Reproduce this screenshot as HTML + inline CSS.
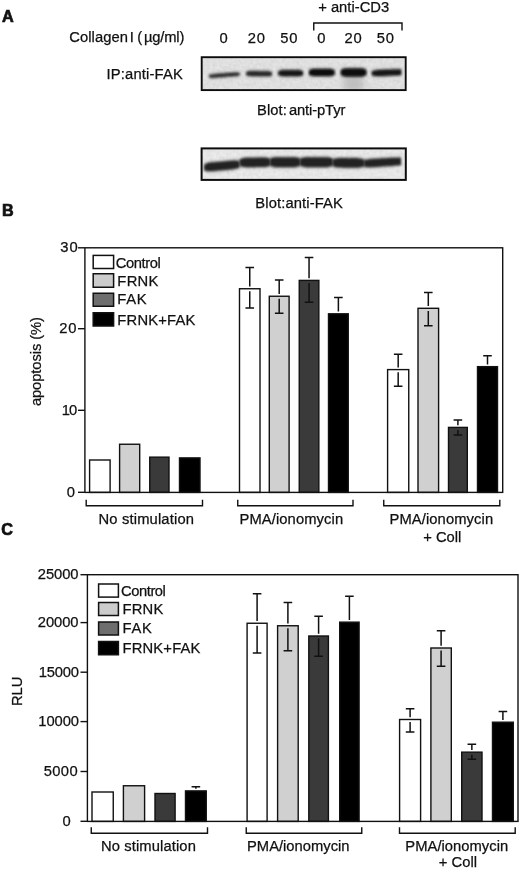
<!DOCTYPE html>
<html><head><meta charset="utf-8"><title>Figure</title>
<style>
html,body{margin:0;padding:0;background:#fff;}
svg{display:block;}
text{font-family:"Liberation Sans",Arial,Helvetica,sans-serif;fill:#111;stroke:#111;stroke-width:0.25;}
.b{font-weight:bold;stroke-width:0.7;}
.ln{stroke:#111;stroke-width:1.4;fill:none;}
.br{stroke:#111;stroke-width:1.4;fill:none;}
.eb{stroke:#111;stroke-width:1.5;fill:none;}
</style></head><body>
<svg width="520" height="870" viewBox="0 0 520 870">
<defs>
<filter id="bl1" x="-20%" y="-100%" width="140%" height="300%"><feGaussianBlur stdDeviation="1.0 0.9"/></filter>
<filter id="bl2" x="-20%" y="-100%" width="140%" height="300%"><feGaussianBlur stdDeviation="1.6 1.5"/></filter>
<filter id="bl4" x="-20%" y="-100%" width="140%" height="300%"><feGaussianBlur stdDeviation="1.3 1.15"/></filter>
<filter id="bl3" x="-50%" y="-50%" width="200%" height="200%"><feGaussianBlur stdDeviation="3 4"/></filter>
<filter id="noise" x="0" y="0" width="100%" height="100%"><feTurbulence type="fractalNoise" baseFrequency="0.3" numOctaves="2" seed="3"/><feColorMatrix type="matrix" values="0 0 0 0 0.5  0 0 0 0 0.5  0 0 0 0 0.5  0.9 0.9 0.9 0 -1.05"/></filter>
<clipPath id="c1"><rect x="201.7" y="57.2" width="204" height="32.9"/></clipPath>
<clipPath id="c2"><rect x="201.6" y="148.4" width="204.2" height="31.5"/></clipPath>
</defs>
<rect width="520" height="870" fill="#fff"/>

<text id="t1" x="1.94" y="22.2" font-size="16.2" class="b">A</text>
<text font-size="14.75">
<tspan id="t2" x="69.31" y="42" letter-spacing="0.049">Collagen </tspan>
<tspan id="t3" x="129.72" y="42">I </tspan>
<tspan id="t4" x="137.17" y="42">( </tspan>
<tspan id="t5" x="144.00" y="42" letter-spacing="-0.180">µg/ml)</tspan>
</text>
<text id="t6" x="219.48" y="42.5" font-size="14.75">0</text>
<text id="t7" x="247.87" y="42.5" font-size="14.75" letter-spacing="0.670">20</text>
<text id="t8" x="280.23" y="42.5" font-size="14.75" letter-spacing="0.950">50</text>
<text id="t9" x="317.18" y="42.5" font-size="14.75">0</text>
<text id="t10" x="344.53" y="42.5" font-size="14.75" letter-spacing="0.835">20</text>
<text id="t11" x="376.67" y="42.5" font-size="14.75" letter-spacing="0.855">50</text>
<text font-size="14.75">
<tspan id="t12" x="318.18" y="12">+ </tspan>
<tspan id="t13" x="330.90" y="12" letter-spacing="0.010">anti-CD3</tspan>
</text>
<path class="br" d="M313.75 30.5V23H402V30.5"/>
<text id="t14" x="106.53" y="78.75" font-size="14.75" letter-spacing="0.166">IP:anti-FAK</text>
<text font-size="14.75">
<tspan id="t15" x="257.00" y="114.5" letter-spacing="0.101">Blot:</tspan>
<tspan id="t16" x="288.90" y="114.5" letter-spacing="-0.114">anti-pTyr</tspan>
</text>
<text id="t17" x="255.37" y="208.25" font-size="14.75" letter-spacing="0.113">Blot:anti-FAK</text>
<g clip-path="url(#c1)">
<rect x="200" y="56" width="208" height="36" fill="#e4e4e4"/>
<rect x="200" y="56" width="208" height="36" filter="url(#noise)" opacity="0.38"/>
<ellipse cx="353.5" cy="84" rx="11" ry="9" fill="#bdbdbd" filter="url(#bl3)"/>
<path d="M209.2 73.9C209.5 73.9 210.0 73.6 211.0 73.5C212.0 73.3 213.1 73.1 215.3 72.9C217.5 72.7 221.4 72.4 224.4 72.2C227.4 72.0 231.3 71.7 233.5 71.5C235.7 71.4 236.8 71.5 237.8 71.5C238.8 71.6 239.3 71.7 239.6 71.7L239.6 76.3C239.3 76.3 238.8 76.6 237.8 76.7C236.8 76.9 235.7 77.1 233.5 77.3C231.3 77.5 227.4 77.8 224.4 78.0C221.4 78.2 217.5 78.5 215.3 78.7C213.1 78.8 212.0 78.7 211.0 78.7C210.0 78.6 209.5 78.5 209.2 78.5Z" fill="#444" filter="url(#bl2)" opacity="0.42"/>
<path d="M209.2 75.2C209.5 75.2 210.0 74.9 211.0 74.8C212.0 74.6 213.1 74.4 215.3 74.2C217.5 74.0 221.4 73.7 224.4 73.5C227.4 73.3 231.3 73.0 233.5 72.8C235.7 72.7 236.8 72.8 237.8 72.8C238.8 72.9 239.3 73.0 239.6 73.0L239.6 75.0C239.3 75.0 238.8 75.3 237.8 75.4C236.8 75.6 235.7 75.8 233.5 76.0C231.3 76.2 227.4 76.5 224.4 76.7C221.4 76.9 217.5 77.2 215.3 77.4C213.1 77.5 212.0 77.4 211.0 77.4C210.0 77.3 209.5 77.2 209.2 77.2Z" fill="#2a2a2a" filter="url(#bl1)"/>
<path d="M246.3 70.9C246.6 70.8 247.0 70.6 247.8 70.4C248.7 70.3 249.5 70.1 251.4 70.0C253.3 70.0 256.5 70.1 259.1 70.1C261.6 70.1 264.8 70.1 266.7 70.2C268.6 70.2 269.4 70.4 270.3 70.6C271.1 70.8 271.5 71.0 271.8 71.1L271.8 76.5C271.5 76.6 271.1 76.8 270.3 77.0C269.4 77.1 268.6 77.3 266.7 77.4C264.8 77.4 261.6 77.3 259.1 77.3C256.5 77.3 253.3 77.3 251.4 77.2C249.5 77.2 248.7 77.0 247.8 76.8C247.0 76.6 246.6 76.4 246.3 76.3Z" fill="#444" filter="url(#bl2)" opacity="0.42"/>
<path d="M246.3 72.2C246.6 72.1 247.0 71.9 247.8 71.7C248.7 71.6 249.5 71.4 251.4 71.3C253.3 71.3 256.5 71.4 259.1 71.4C261.6 71.4 264.8 71.4 266.7 71.5C268.6 71.5 269.4 71.7 270.3 71.9C271.1 72.1 271.5 72.3 271.8 72.4L271.8 75.2C271.5 75.3 271.1 75.5 270.3 75.7C269.4 75.8 268.6 76.0 266.7 76.1C264.8 76.1 261.6 76.0 259.1 76.0C256.5 76.0 253.3 76.0 251.4 75.9C249.5 75.9 248.7 75.7 247.8 75.5C247.0 75.3 246.6 75.1 246.3 75.0Z" fill="#262626" filter="url(#bl1)"/>
<path d="M278.3 70.3C278.5 70.2 279.0 69.8 279.8 69.6C280.6 69.4 281.4 69.1 283.2 69.0C285.1 68.9 288.2 69.0 290.6 69.0C293.1 69.0 296.2 68.9 298.1 69.0C299.9 69.1 300.7 69.4 301.5 69.6C302.3 69.8 302.8 70.2 303.0 70.3L303.0 76.1C302.8 76.2 302.3 76.6 301.5 76.8C300.7 77.0 299.9 77.3 298.1 77.4C296.2 77.5 293.1 77.4 290.6 77.4C288.2 77.4 285.1 77.5 283.2 77.4C281.4 77.3 280.6 77.0 279.8 76.8C279.0 76.6 278.5 76.2 278.3 76.1Z" fill="#444" filter="url(#bl2)" opacity="0.42"/>
<path d="M278.3 71.6C278.5 71.5 279.0 71.1 279.8 70.9C280.6 70.7 281.4 70.4 283.2 70.3C285.1 70.2 288.2 70.3 290.6 70.3C293.1 70.3 296.2 70.2 298.1 70.3C299.9 70.4 300.7 70.7 301.5 70.9C302.3 71.1 302.8 71.5 303.0 71.6L303.0 74.8C302.8 74.9 302.3 75.3 301.5 75.5C300.7 75.7 299.9 76.0 298.1 76.1C296.2 76.2 293.1 76.1 290.6 76.1C288.2 76.1 285.1 76.2 283.2 76.1C281.4 76.0 280.6 75.7 279.8 75.5C279.0 75.3 278.5 74.9 278.3 74.8Z" fill="#141414" filter="url(#bl1)"/>
<path d="M309.0 69.3C309.3 69.1 309.7 68.7 310.5 68.4C311.4 68.1 312.2 67.8 314.1 67.7C316.0 67.6 319.2 67.7 321.8 67.7C324.4 67.7 327.6 67.6 329.5 67.7C331.4 67.8 332.2 68.1 333.1 68.4C333.9 68.7 334.3 69.1 334.6 69.3L334.6 75.7C334.3 75.9 333.9 76.3 333.1 76.6C332.2 76.9 331.4 77.2 329.5 77.3C327.6 77.4 324.4 77.3 321.8 77.3C319.2 77.3 316.0 77.4 314.1 77.3C312.2 77.2 311.4 76.9 310.5 76.6C309.7 76.3 309.3 75.9 309.0 75.7Z" fill="#444" filter="url(#bl2)" opacity="0.42"/>
<path d="M309.0 70.6C309.3 70.4 309.7 70.0 310.5 69.7C311.4 69.4 312.2 69.1 314.1 69.0C316.0 68.9 319.2 69.0 321.8 69.0C324.4 69.0 327.6 68.9 329.5 69.0C331.4 69.1 332.2 69.4 333.1 69.7C333.9 70.0 334.3 70.4 334.6 70.6L334.6 74.4C334.3 74.6 333.9 75.0 333.1 75.3C332.2 75.6 331.4 75.9 329.5 76.0C327.6 76.1 324.4 76.0 321.8 76.0C319.2 76.0 316.0 76.1 314.1 76.0C312.2 75.9 311.4 75.6 310.5 75.3C309.7 75.0 309.3 74.6 309.0 74.4Z" fill="#101010" filter="url(#bl1)"/>
<path d="M340.8 69.1C341.1 68.9 341.5 68.4 342.3 68.1C343.2 67.8 344.0 67.4 345.9 67.3C347.8 67.2 351.0 67.3 353.6 67.3C356.2 67.3 359.4 67.2 361.3 67.3C363.2 67.4 364.0 67.8 364.9 68.1C365.7 68.4 366.1 68.9 366.4 69.1L366.4 75.9C366.1 76.1 365.7 76.6 364.9 76.9C364.0 77.2 363.2 77.6 361.3 77.7C359.4 77.8 356.2 77.7 353.6 77.7C351.0 77.7 347.8 77.8 345.9 77.7C344.0 77.6 343.2 77.2 342.3 76.9C341.5 76.6 341.1 76.1 340.8 75.9Z" fill="#444" filter="url(#bl2)" opacity="0.42"/>
<path d="M340.8 70.4C341.1 70.2 341.5 69.7 342.3 69.4C343.2 69.1 344.0 68.7 345.9 68.6C347.8 68.5 351.0 68.6 353.6 68.6C356.2 68.6 359.4 68.5 361.3 68.6C363.2 68.7 364.0 69.1 364.9 69.4C365.7 69.7 366.1 70.2 366.4 70.4L366.4 74.6C366.1 74.8 365.7 75.3 364.9 75.6C364.0 75.9 363.2 76.3 361.3 76.4C359.4 76.5 356.2 76.4 353.6 76.4C351.0 76.4 347.8 76.5 345.9 76.4C344.0 76.3 343.2 75.9 342.3 75.6C341.5 75.3 341.1 74.8 340.8 74.6Z" fill="#0c0c0c" filter="url(#bl1)"/>
<path d="M371.8 70.4C372.1 70.3 372.6 69.9 373.6 69.6C374.5 69.4 375.5 69.1 377.7 68.9C379.8 68.7 383.6 68.7 386.5 68.5C389.4 68.4 393.2 68.3 395.3 68.2C397.5 68.2 398.5 68.2 399.4 68.2C400.4 68.2 400.9 68.2 401.2 68.1L401.2 76.3C400.9 76.3 400.4 76.3 399.4 76.3C398.5 76.4 397.5 76.5 395.3 76.6C393.2 76.7 389.4 76.8 386.5 77.0C383.6 77.1 379.8 77.3 377.7 77.3C375.5 77.3 374.5 77.0 373.6 76.8C372.6 76.7 372.1 76.3 371.8 76.2Z" fill="#444" filter="url(#bl2)" opacity="0.42"/>
<path d="M371.8 71.7C372.1 71.6 372.6 71.2 373.6 70.9C374.5 70.7 375.5 70.4 377.7 70.2C379.8 70.0 383.6 70.0 386.5 69.8C389.4 69.7 393.2 69.6 395.3 69.5C397.5 69.5 398.5 69.5 399.4 69.5C400.4 69.5 400.9 69.5 401.2 69.4L401.2 75.0C400.9 75.0 400.4 75.0 399.4 75.0C398.5 75.1 397.5 75.2 395.3 75.3C393.2 75.4 389.4 75.5 386.5 75.7C383.6 75.8 379.8 76.0 377.7 76.0C375.5 76.0 374.5 75.7 373.6 75.5C372.6 75.4 372.1 75.0 371.8 74.9Z" fill="#121212" filter="url(#bl1)"/>
</g>
<rect x="201.7" y="57.2" width="204" height="32.9" fill="none" stroke="#0c0c0c" stroke-width="1.9"/>
<g clip-path="url(#c2)">
<rect x="200" y="147" width="208" height="35" fill="#ebebeb"/>
<rect x="200" y="147" width="208" height="35" filter="url(#noise)" opacity="0.3"/>
<path d="M204.3 163.6C204.7 163.4 205.2 162.9 206.4 162.5C207.6 162.1 208.8 161.6 211.4 161.3C213.9 160.9 218.4 160.7 221.9 160.4C225.5 160.0 230.0 159.5 232.5 159.4C235.1 159.3 236.3 159.5 237.5 159.6C238.7 159.8 239.2 160.2 239.6 160.3L239.6 168.3C239.2 168.5 238.7 169.0 237.5 169.3C236.3 169.7 235.1 170.1 232.5 170.4C230.0 170.8 225.5 171.0 221.9 171.4C218.4 171.7 213.9 172.2 211.4 172.3C208.8 172.4 207.6 172.1 206.4 172.0C205.2 171.8 204.7 171.3 204.3 171.2Z" fill="#444" filter="url(#bl2)" opacity="0.42"/>
<path d="M204.3 164.9C204.7 164.7 205.2 164.2 206.4 163.8C207.6 163.4 208.8 162.9 211.4 162.6C213.9 162.2 218.4 162.0 221.9 161.7C225.5 161.3 230.0 160.8 232.5 160.7C235.1 160.6 236.3 160.8 237.5 160.9C238.7 161.1 239.2 161.5 239.6 161.6L239.6 167.0C239.2 167.2 238.7 167.7 237.5 168.0C236.3 168.4 235.1 168.8 232.5 169.1C230.0 169.5 225.5 169.7 221.9 170.1C218.4 170.4 213.9 170.9 211.4 171.0C208.8 171.1 207.6 170.8 206.4 170.7C205.2 170.5 204.7 170.0 204.3 169.9Z" fill="#242424" filter="url(#bl4)"/>
<path d="M239.6 158.6C239.9 158.4 240.4 157.9 241.4 157.6C242.5 157.3 243.5 156.9 245.7 156.7C248.0 156.6 251.9 156.6 254.9 156.6C258.0 156.6 261.9 156.4 264.2 156.5C266.4 156.6 267.4 156.9 268.5 157.2C269.5 157.5 270.0 158.0 270.3 158.2L270.3 166.2C270.0 166.4 269.5 166.9 268.5 167.2C267.4 167.5 266.4 167.9 264.2 168.1C261.9 168.2 258.0 168.2 254.9 168.2C251.9 168.2 248.0 168.4 245.7 168.3C243.5 168.2 242.5 167.9 241.4 167.6C240.4 167.3 239.9 166.8 239.6 166.6Z" fill="#444" filter="url(#bl2)" opacity="0.42"/>
<path d="M239.6 159.9C239.9 159.7 240.4 159.2 241.4 158.9C242.5 158.6 243.5 158.2 245.7 158.0C248.0 157.9 251.9 157.9 254.9 157.9C258.0 157.9 261.9 157.7 264.2 157.8C266.4 157.9 267.4 158.2 268.5 158.5C269.5 158.8 270.0 159.3 270.3 159.5L270.3 164.9C270.0 165.1 269.5 165.6 268.5 165.9C267.4 166.2 266.4 166.6 264.2 166.8C261.9 166.9 258.0 166.9 254.9 166.9C251.9 166.9 248.0 167.1 245.7 167.0C243.5 166.9 242.5 166.6 241.4 166.3C240.4 166.0 239.9 165.5 239.6 165.3Z" fill="#242424" filter="url(#bl4)"/>
<path d="M269.9 158.1C270.2 157.9 270.7 157.4 271.7 157.0C272.7 156.7 273.8 156.3 276.0 156.2C278.2 156.1 282.1 156.2 285.1 156.2C288.1 156.2 292.0 156.1 294.2 156.2C296.4 156.3 297.5 156.7 298.5 157.0C299.5 157.4 300.0 157.9 300.3 158.1L300.3 166.3C300.0 166.5 299.5 167.0 298.5 167.4C297.5 167.7 296.4 168.1 294.2 168.2C292.0 168.3 288.1 168.2 285.1 168.2C282.1 168.2 278.2 168.3 276.0 168.2C273.8 168.1 272.7 167.7 271.7 167.4C270.7 167.0 270.2 166.5 269.9 166.3Z" fill="#444" filter="url(#bl2)" opacity="0.42"/>
<path d="M269.9 159.4C270.2 159.2 270.7 158.7 271.7 158.3C272.7 158.0 273.8 157.6 276.0 157.5C278.2 157.4 282.1 157.5 285.1 157.5C288.1 157.5 292.0 157.4 294.2 157.5C296.4 157.6 297.5 158.0 298.5 158.3C299.5 158.7 300.0 159.2 300.3 159.4L300.3 165.0C300.0 165.2 299.5 165.7 298.5 166.1C297.5 166.4 296.4 166.8 294.2 166.9C292.0 167.0 288.1 166.9 285.1 166.9C282.1 166.9 278.2 167.0 276.0 166.9C273.8 166.8 272.7 166.4 271.7 166.1C270.7 165.7 270.2 165.2 269.9 165.0Z" fill="#242424" filter="url(#bl4)"/>
<path d="M299.9 158.1C300.2 157.9 300.8 157.4 301.9 157.0C303.0 156.7 304.1 156.3 306.5 156.2C309.0 156.1 313.2 156.2 316.5 156.2C319.8 156.2 324.0 156.1 326.5 156.2C328.9 156.3 330.0 156.7 331.1 157.0C332.2 157.4 332.8 157.9 333.1 158.1L333.1 166.3C332.8 166.5 332.2 167.0 331.1 167.4C330.0 167.7 328.9 168.1 326.5 168.2C324.0 168.3 319.8 168.2 316.5 168.2C313.2 168.2 309.0 168.3 306.5 168.2C304.1 168.1 303.0 167.7 301.9 167.4C300.8 167.0 300.2 166.5 299.9 166.3Z" fill="#444" filter="url(#bl2)" opacity="0.42"/>
<path d="M299.9 159.4C300.2 159.2 300.8 158.7 301.9 158.3C303.0 158.0 304.1 157.6 306.5 157.5C309.0 157.4 313.2 157.5 316.5 157.5C319.8 157.5 324.0 157.4 326.5 157.5C328.9 157.6 330.0 158.0 331.1 158.3C332.2 158.7 332.8 159.2 333.1 159.4L333.1 165.0C332.8 165.2 332.2 165.7 331.1 166.1C330.0 166.4 328.9 166.8 326.5 166.9C324.0 167.0 319.8 166.9 316.5 166.9C313.2 166.9 309.0 167.0 306.5 166.9C304.1 166.8 303.0 166.4 301.9 166.1C300.8 165.7 300.2 165.2 299.9 165.0Z" fill="#242424" filter="url(#bl4)"/>
<path d="M332.7 158.8C333.0 158.6 333.6 158.1 334.6 157.8C335.7 157.5 336.7 157.2 339.1 157.0C341.4 156.9 345.5 157.1 348.6 157.1C351.8 157.1 355.9 157.0 358.2 157.2C360.6 157.3 361.6 157.8 362.7 158.1C363.7 158.4 364.3 159.0 364.6 159.2L364.6 166.8C364.3 167.0 363.7 167.5 362.7 167.9C361.6 168.2 360.6 168.6 358.2 168.8C355.9 168.9 351.8 168.7 348.6 168.7C345.5 168.7 341.4 168.8 339.1 168.6C336.7 168.5 335.7 168.1 334.6 167.8C333.6 167.5 333.0 167.0 332.7 166.8Z" fill="#444" filter="url(#bl2)" opacity="0.42"/>
<path d="M332.7 160.1C333.0 159.9 333.6 159.4 334.6 159.1C335.7 158.8 336.7 158.5 339.1 158.3C341.4 158.2 345.5 158.4 348.6 158.4C351.8 158.4 355.9 158.3 358.2 158.5C360.6 158.6 361.6 159.1 362.7 159.4C363.7 159.7 364.3 160.3 364.6 160.5L364.6 165.5C364.3 165.7 363.7 166.2 362.7 166.6C361.6 166.9 360.6 167.3 358.2 167.5C355.9 167.6 351.8 167.4 348.6 167.4C345.5 167.4 341.4 167.5 339.1 167.3C336.7 167.2 335.7 166.8 334.6 166.5C333.6 166.2 333.0 165.7 332.7 165.5Z" fill="#242424" filter="url(#bl4)"/>
<path d="M364.0 159.3C364.4 159.2 365.0 158.9 366.2 158.7C367.4 158.5 368.7 158.2 371.4 158.0C374.1 157.8 378.7 157.6 382.4 157.3C386.1 157.1 390.7 156.8 393.4 156.7C396.1 156.6 397.4 156.7 398.6 156.6C399.8 156.6 400.4 156.5 400.8 156.5L400.8 166.3C400.4 166.3 399.8 166.3 398.6 166.4C397.4 166.5 396.1 166.7 393.4 166.9C390.7 167.1 386.1 167.3 382.4 167.5C378.7 167.8 374.1 168.1 371.4 168.2C368.7 168.3 367.4 168.1 366.2 168.0C365.0 168.0 364.4 167.7 364.0 167.7Z" fill="#444" filter="url(#bl2)" opacity="0.42"/>
<path d="M364.0 160.7C364.4 160.5 365.0 160.2 366.2 160.0C367.4 159.8 368.7 159.5 371.4 159.3C374.1 159.1 378.7 158.9 382.4 158.6C386.1 158.4 390.7 158.1 393.4 158.0C396.1 157.9 397.4 158.0 398.6 157.9C399.8 157.9 400.4 157.8 400.8 157.8L400.8 165.0C400.4 165.0 399.8 165.0 398.6 165.1C397.4 165.2 396.1 165.4 393.4 165.6C390.7 165.8 386.1 166.0 382.4 166.2C378.7 166.5 374.1 166.8 371.4 166.9C368.7 167.0 367.4 166.8 366.2 166.7C365.0 166.7 364.4 166.4 364.0 166.3Z" fill="#242424" filter="url(#bl4)"/>
</g>
<rect x="201.6" y="148.4" width="204.2" height="31.5" fill="none" stroke="#0c0c0c" stroke-width="2"/>
<text id="t18" x="2.04" y="215.8" font-size="16.2" class="b">B</text>
<rect x="89.60" y="460.00" width="20.50" height="32.40" fill="#ffffff" stroke="#111" stroke-width="1.4"/>
<rect x="119.60" y="444.25" width="20.10" height="48.15" fill="#d0d0d0" stroke="#111" stroke-width="1.4"/>
<rect x="149.75" y="457.15" width="19.25" height="35.25" fill="#3a3a3a" stroke="#111" stroke-width="1.4"/>
<rect x="179.50" y="457.90" width="20.50" height="34.50" fill="#000000" stroke="#111" stroke-width="1.4"/>
<rect x="239.50" y="288.75" width="20.50" height="203.65" fill="#ffffff" stroke="#111" stroke-width="1.4"/>
<path class="eb" d="M249.75 286.55V267.50M245.45 267.50H254.05"/>
<path class="eb" d="M249.75 291.35V308.00M245.45 308.00H254.05"/>
<rect x="269.30" y="296.25" width="19.80" height="196.15" fill="#d0d0d0" stroke="#111" stroke-width="1.4"/>
<path class="eb" d="M279.20 294.05V280.00M274.90 280.00H283.50"/>
<path class="eb" d="M279.20 298.85V313.25M274.90 313.25H283.50"/>
<rect x="299.25" y="280.40" width="19.60" height="212.00" fill="#3a3a3a" stroke="#111" stroke-width="1.4"/>
<path class="eb" d="M309.05 278.20V257.60M304.75 257.60H313.35"/>
<path class="eb" d="M309.05 283.00V302.20M304.75 302.20H313.35"/>
<rect x="328.50" y="313.80" width="19.75" height="178.60" fill="#000000" stroke="#111" stroke-width="1.4"/>
<path class="eb" d="M338.38 311.60V297.50M334.07 297.50H342.68"/>
<rect x="387.60" y="369.60" width="21.15" height="122.80" fill="#ffffff" stroke="#111" stroke-width="1.4"/>
<path class="eb" d="M398.18 367.40V354.25M393.88 354.25H402.48"/>
<path class="eb" d="M398.18 372.20V386.25M393.88 386.25H402.48"/>
<rect x="418.00" y="308.30" width="20.60" height="184.10" fill="#d0d0d0" stroke="#111" stroke-width="1.4"/>
<path class="eb" d="M428.30 306.10V292.50M424.00 292.50H432.60"/>
<path class="eb" d="M428.30 310.90V325.70M424.00 325.70H432.60"/>
<rect x="448.50" y="427.40" width="18.80" height="65.00" fill="#3a3a3a" stroke="#111" stroke-width="1.4"/>
<path class="eb" d="M457.90 425.20V420.00M453.60 420.00H462.20"/>
<path class="eb" d="M457.90 430.00V435.00M453.60 435.00H462.20"/>
<rect x="477.50" y="366.65" width="20.00" height="125.75" fill="#000000" stroke="#111" stroke-width="1.4"/>
<path class="eb" d="M487.50 364.45V355.75M483.20 355.75H491.80"/>
<rect class="ln" x="84.9" y="247.8" width="417.80" height="244.60"/>
<path class="ln" d="M78.00 492.30H84.9"/>
<text id="t19" x="66.68" y="496.9" font-size="14.75">0</text>
<path class="ln" d="M78.00 410.30H84.9"/>
<text id="t20" x="61.64" y="414.9" font-size="14.75" letter-spacing="-0.780">10</text>
<path class="ln" d="M78.00 328.70H84.9"/>
<text id="t21" x="59.21" y="333.3" font-size="14.75" letter-spacing="0.765">20</text>
<path class="ln" d="M78.00 247.80H84.9"/>
<text id="t22" x="60.23" y="252.4" font-size="14.75" letter-spacing="1.005">30</text>
<path class="br" d="M86.2 499.8V505.7H202.5V499.8"/>
<path class="br" d="M237.75 499.8V505.7H353V499.8"/>
<path class="br" d="M383.75 499.8V505.7H499.8V499.8"/>
<rect x="93.2" y="255.4" width="20.39999999999999" height="13.099999999999994" fill="#ffffff" stroke="#111" stroke-width="1.5"/>
<rect x="93.2" y="273.75" width="20.39999999999999" height="13.5" fill="#cccccc" stroke="#111" stroke-width="1.5"/>
<rect x="93.2" y="293.25" width="20.39999999999999" height="13.0" fill="#6e6e6e" stroke="#111" stroke-width="1.5"/>
<rect x="93.2" y="312.75" width="20.39999999999999" height="13.25" fill="#000000" stroke="#111" stroke-width="1.5"/>
<text id="t23" x="115.63" y="268" font-size="14.75" letter-spacing="-0.397">Control</text>
<text id="t24" x="117.37" y="286" font-size="14.75" letter-spacing="0.277">FRNK</text>
<text id="t25" x="117.37" y="304.25" font-size="14.75" letter-spacing="0.723">FAK</text>
<text id="t26" x="117.37" y="325" font-size="14.75" letter-spacing="0.191">FRNK+FAK</text>
<text id="t27" x="98.52" y="523.6" font-size="14.75" letter-spacing="0.152">No stimulation</text>
<text id="t28" x="239.52" y="523.7" font-size="14.75" letter-spacing="0.093">PMA/ionomycin</text>
<text id="t29" x="389.52" y="523.8" font-size="14.75" letter-spacing="0.093">PMA/ionomycin</text>
<text id="t30" x="423.18" y="541.5" font-size="14.75" letter-spacing="0.014">+ Coll</text>
<text id="t31" transform="translate(40.8 406.12) rotate(-90)" font-size="14.75" letter-spacing="-0.093">apoptosis (%)</text>
<text id="t32" x="1.26" y="534.7" font-size="16.2" class="b">C</text>
<rect x="92.00" y="792.00" width="21.25" height="29.40" fill="#ffffff" stroke="#111" stroke-width="1.4"/>
<rect x="123.40" y="785.75" width="21.20" height="35.65" fill="#d0d0d0" stroke="#111" stroke-width="1.4"/>
<rect x="155.00" y="793.50" width="20.10" height="27.90" fill="#3a3a3a" stroke="#111" stroke-width="1.4"/>
<rect x="185.50" y="790.90" width="20.75" height="30.50" fill="#000000" stroke="#111" stroke-width="1.4"/>
<path class="eb" d="M195.88 788.70V786.75M191.57 786.75H200.18"/>
<rect x="247.10" y="623.25" width="20.00" height="198.15" fill="#ffffff" stroke="#111" stroke-width="1.4"/>
<path class="eb" d="M257.10 621.05V593.75M252.80 593.75H261.40"/>
<path class="eb" d="M257.10 625.85V653.00M252.80 653.00H261.40"/>
<rect x="277.60" y="625.75" width="20.60" height="195.65" fill="#d0d0d0" stroke="#111" stroke-width="1.4"/>
<path class="eb" d="M287.90 623.55V602.50M283.60 602.50H292.20"/>
<path class="eb" d="M287.90 628.35V650.75M283.60 650.75H292.20"/>
<rect x="308.80" y="636.00" width="19.60" height="185.40" fill="#3a3a3a" stroke="#111" stroke-width="1.4"/>
<path class="eb" d="M318.60 633.80V616.25M314.30 616.25H322.90"/>
<path class="eb" d="M318.60 638.60V656.25M314.30 656.25H322.90"/>
<rect x="339.70" y="622.15" width="19.40" height="199.25" fill="#000000" stroke="#111" stroke-width="1.4"/>
<path class="eb" d="M349.40 619.95V596.25M345.10 596.25H353.70"/>
<rect x="399.60" y="719.50" width="21.00" height="101.90" fill="#ffffff" stroke="#111" stroke-width="1.4"/>
<path class="eb" d="M410.10 717.30V708.75M405.80 708.75H414.40"/>
<path class="eb" d="M410.10 722.10V732.00M405.80 732.00H414.40"/>
<rect x="430.90" y="648.00" width="20.40" height="173.40" fill="#d0d0d0" stroke="#111" stroke-width="1.4"/>
<path class="eb" d="M441.10 645.80V630.75M436.80 630.75H445.40"/>
<path class="eb" d="M441.10 650.60V666.25M436.80 666.25H445.40"/>
<rect x="461.70" y="752.15" width="20.30" height="69.25" fill="#3a3a3a" stroke="#111" stroke-width="1.4"/>
<path class="eb" d="M471.85 749.95V744.30M467.55 744.30H476.15"/>
<path class="eb" d="M471.85 754.75V759.20M467.55 759.20H476.15"/>
<rect x="492.50" y="722.20" width="20.80" height="99.20" fill="#000000" stroke="#111" stroke-width="1.4"/>
<path class="eb" d="M502.90 720.00V711.60M498.60 711.60H507.20"/>
<rect class="ln" x="87.4" y="574.7" width="430.60" height="246.70"/>
<path class="ln" d="M80.50 821.30H87.4"/>
<text id="t33" x="62.48" y="825.9" font-size="14.75">0</text>
<path class="ln" d="M80.50 771.50H87.4"/>
<text id="t34" x="43.80" y="776.1" font-size="14.75" letter-spacing="0.327">5000</text>
<path class="ln" d="M80.50 721.60H87.4"/>
<text id="t35" x="38.34" y="726.2" font-size="14.75" letter-spacing="-0.103">10000</text>
<path class="ln" d="M80.50 672.20H87.4"/>
<text id="t36" x="38.68" y="676.8" font-size="14.75" letter-spacing="-0.188">15000</text>
<path class="ln" d="M80.50 622.60H87.4"/>
<text id="t37" x="37.84" y="627.2" font-size="14.75" letter-spacing="-0.068">20000</text>
<path class="ln" d="M80.50 574.70H87.4"/>
<text id="t38" x="37.84" y="579.3" font-size="14.75" letter-spacing="-0.068">25000</text>
<path class="br" d="M91.25 827.2V833.2H207.5V827.2"/>
<path class="br" d="M246.25 827.2V833.2H361.75V827.2"/>
<path class="br" d="M399.5 827.2V833.2H515.2V827.2"/>
<rect x="98.6" y="584" width="19.80000000000001" height="13.100000000000023" fill="#ffffff" stroke="#111" stroke-width="1.5"/>
<rect x="98.6" y="602.5" width="19.80000000000001" height="13.0" fill="#cccccc" stroke="#111" stroke-width="1.5"/>
<rect x="98.6" y="622" width="19.80000000000001" height="13" fill="#6e6e6e" stroke="#111" stroke-width="1.5"/>
<rect x="98.6" y="641.5" width="19.80000000000001" height="13.25" fill="#000000" stroke="#111" stroke-width="1.5"/>
<text id="t39" x="121.11" y="595.7" font-size="14.75" letter-spacing="-0.468">Control</text>
<text id="t40" x="122.52" y="613.9" font-size="14.75" letter-spacing="0.217">FRNK</text>
<text id="t41" x="122.52" y="633" font-size="14.75" letter-spacing="0.728">FAK</text>
<text id="t42" x="122.49" y="653.1" font-size="14.75" letter-spacing="0.180">FRNK+FAK</text>
<text id="t43" x="101.00" y="850.5" font-size="14.75" letter-spacing="0.107">No stimulation</text>
<text id="t44" x="247.00" y="850.5" font-size="14.75" letter-spacing="0.006">PMA/ionomycin</text>
<text id="t45" x="405.37" y="850.5" font-size="14.75" letter-spacing="0.026">PMA/ionomycin</text>
<text id="t46" x="438.71" y="867" font-size="14.75" letter-spacing="0.031">+ Coll</text>
<text id="t47" transform="translate(22.0 706.07) rotate(-90)" font-size="14.75" letter-spacing="-0.030">RLU</text>
</svg></body></html>
